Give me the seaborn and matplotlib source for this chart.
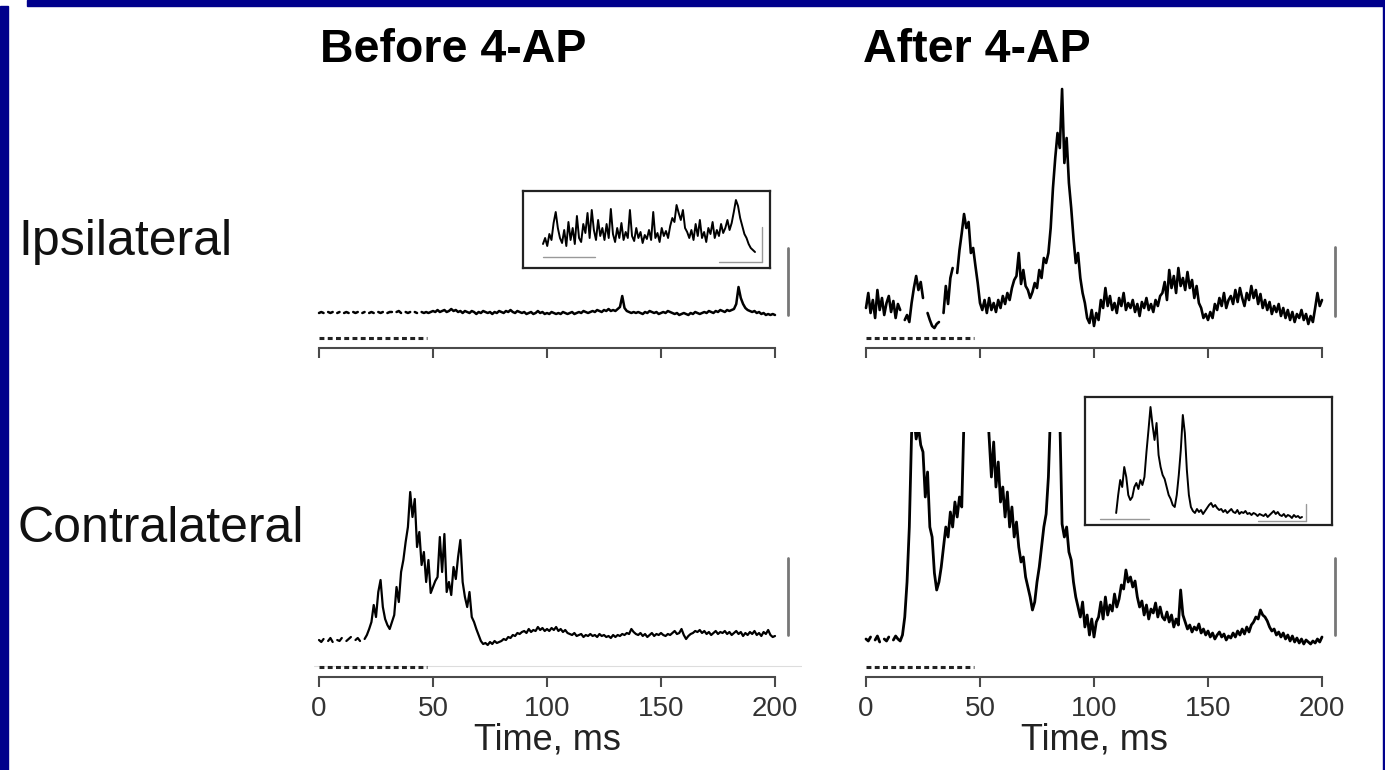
import numpy as np
import pandas as pd
import matplotlib
matplotlib.use("Agg")
import matplotlib.pyplot as plt
from matplotlib.patches import Rectangle
import seaborn as sns

# ---- data (signal height above the time axis) ----
nan = np.nan
time_ms = np.arange(0, 201)          # 1 ms samples, 0..200 ms
time_inset = np.arange(0, 201, 2)    # 2 ms samples for the insets

before_ipsi = [
    35, 36, 35, nan, 36, 35, 36, nan, 35, 36,
    nan, 35, 36, 35, nan, 36, 35, 36, nan, 35,
    36, nan, 35, 36, 35, nan, 36, 35, 36, nan,
    35, 36, 36, nan, 36, 37, 35, nan, 36, 35,
    36, nan, 36, 35, nan, 36, 35, 36, 35, 36,
    37, 36, 38, 36, 37, 38, 36, 37, 39, 37,
    38, 36, 37, 35, 37, 36, 35, 37, 36, 34,
    36, 35, 37, 36, 35, 36, 34, 36, 35, 37,
    36, 35, 37, 36, 38, 36, 35, 37, 36, 35,
    36, 34, 35, 36, 34, 35, 37, 35, 36, 34,
    35, 34, 36, 35, 34, 35, 34, 36, 35, 34,
    35, 36, 34, 35, 36, 35, 37, 36, 35, 36,
    37, 36, 38, 37, 36, 38, 37, 39, 37, 38,
    37, 39, 41, 52, 40, 37, 36, 35, 36, 35,
    36, 35, 34, 36, 35, 37, 36, 35, 36, 34,
    35, 36, 35, 37, 36, 35, 34, 35, 33, 34,
    35, 34, 33, 35, 34, 36, 35, 34, 35, 36,
    35, 37, 36, 35, 37, 36, 38, 37, 36, 38,
    37, 38, 39, 44, 61, 50, 44, 40, 38, 37,
    36, 37, 35, 36, 34, 35, 33, 34, 33, 34,
    33]

after_ipsi = [
    40, 55, 35, 48, 30, 58, 38, 50, 33, 45,
    52, 36, 47, 30, 44, 38, nan, 28, 33, 26,
    45, 60, 72, 58, 66, 50, nan, 35, 28, 22,
    20, 24, 26, nan, 35, 62, 44, 70, 80, nan,
    75, 98, 115, 134, 120, 126, 95, 100, 82, 65,
    45, 38, 48, 35, 50, 38, 45, 36, 48, 40,
    52, 44, 55, 48, 60, 68, 72, 95, 64, 78,
    62, 58, 50, 56, 65, 60, 78, 70, 90, 85,
    95, 120, 160, 190, 215, 200, 259, 185, 210, 165,
    140, 110, 85, 95, 70, 55, 45, 30, 25, 38,
    22, 35, 28, 48, 40, 60, 42, 52, 38, 45,
    35, 50, 42, 55, 38, 45, 40, 48, 36, 44,
    32, 46, 40, 50, 38, 44, 36, 48, 42, 52,
    55, 66, 48, 78, 60, 72, 55, 80, 62, 70,
    58, 76, 60, 68, 50, 62, 45, 40, 30, 34,
    28, 36, 30, 44, 38, 50, 42, 55, 40, 48,
    52, 44, 58, 46, 60, 50, 42, 55, 48, 62,
    50, 58, 44, 54, 40, 48, 38, 46, 34, 42,
    36, 44, 32, 40, 30, 38, 28, 36, 26, 34,
    30, 38, 28, 34, 24, 32, 26, 40, 55, 42,
    48]

before_contra = [
    37, 35, 38, nan, 36, 39, 35, nan, 37, 36,
    39, nan, 36, 38, 40, nan, 37, 39, 36, nan,
    38, 42, 48, 55, 72, 60, 85, 97, 70, 58,
    52, 48, 55, 62, 90, 75, 105, 117, 135, 150,
    185, 160, 178, 130, 145, 112, 125, 95, 117, 84,
    90, 96, 100, 140, 105, 143, 85, 95, 82, 110,
    98, 120, 137, 95, 80, 70, 85, 60, 55, 48,
    42, 36, 33, 34, 32, 35, 33, 36, 34, 35,
    36, 38, 37, 40, 39, 42, 41, 44, 43, 45,
    46, 44, 48, 45, 47, 46, 50, 47, 49, 46,
    48, 46, 49, 47, 50, 46, 48, 45, 47, 44,
    43, 42, 44, 41, 42, 43, 40, 42, 41, 43,
    41, 42, 40, 43, 41, 42, 40, 41, 39, 42,
    40, 42, 41, 43, 42, 44, 43, 48, 45, 43,
    42, 44, 41, 43, 40, 42, 44, 41, 43, 42,
    44, 42, 41, 43, 42, 44, 46, 43, 44, 48,
    42, 38, 41, 43, 44, 46, 45, 47, 44, 46,
    43, 45, 42, 44, 46, 43, 45, 44, 46, 43,
    45, 42, 44, 46, 43, 45, 41, 44, 42, 45,
    43, 46, 42, 44, 41, 45, 43, 47, 42, 40,
    41]

after_contra = [
    38, 36, 40, nan, 37, 41, 35, nan, 38, 36,
    40, nan, 37, 41, 38, 36, 42, 60, 95, 150,
    244, 260, 238, 250, 232, 225, 180, 205, 150, 140,
    104, 87, 95, 110, 130, 150, 140, 165, 150, 175,
    160, 180, 170, 260, 320, 330, 330, 320, 310, 300,
    300, 310, 300, 280, 240, 200, 235, 190, 215, 175,
    190, 160, 185, 150, 170, 140, 155, 130, 115, 120,
    100, 90, 80, 67, 75, 95, 110, 130, 150, 163,
    200, 270, 300, 300, 280, 260, 153, 140, 150, 125,
    117, 95, 80, 70, 60, 75, 50, 62, 42, 58,
    40, 55, 60, 75, 58, 80, 62, 72, 66, 83,
    70, 78, 92, 88, 107, 95, 100, 90, 96, 80,
    70, 76, 62, 72, 58, 68, 64, 74, 60, 70,
    60, 57, 65, 55, 62, 50, 58, 52, 87, 62,
    55, 48, 52, 45, 50, 47, 53, 44, 48, 42,
    46, 40, 44, 38, 42, 45, 40, 43, 37, 41,
    39, 44, 40, 46, 42, 48, 43, 50, 45, 52,
    55, 60, 58, 67, 62, 60, 56, 50, 46, 48,
    42, 45, 40, 44, 38, 42, 36, 41, 35, 39,
    34, 38, 33, 37, 35, 33, 36, 34, 38, 35,
    40]

inset_before_ipsi = [
    24, 30, 22, 34, 28, 45, 56, 40, 30, 25,
    38, 22, 46, 28, 40, 24, 52, 30, 26, 44,
    35, 55, 30, 58, 38, 28, 48, 32, 40, 28,
    44, 30, 59, 34, 26, 40, 30, 45, 28, 36,
    30, 58, 32, 27, 40, 30, 36, 25, 33, 29,
    38, 28, 56, 30, 35, 26, 40, 32, 37, 30,
    42, 50, 46, 63, 55, 48, 58, 40, 36, 30,
    38, 28, 44, 32, 48, 30, 36, 26, 40, 34,
    46, 30, 38, 32, 44, 35, 40, 48, 38, 45,
    56, 68, 62, 50, 42, 34, 30, 24, 20, 18,
    16]

inset_after_contra = [
    8, nan, 9, nan, 8, nan, 9, nan, 12, 30,
    45, 38, 58, 48, 30, 25, 28, 38, 42, 36,
    45, 40, 48, 73, 95, 118, 100, 85, 102, 70,
    58, 50, 46, 38, 30, 26, 20, 18, 30, 50,
    75, 110, 92, 55, 30, 18, 14, 12, 16, 13,
    15, 11, 14, 17, 20, 22, 18, 20, 17, 15,
    16, 13, 15, 12, 14, 16, 13, 12, 15, 11,
    13, 12, 14, 11, 12, 10, 12, 11, 9, 11,
    10, 9, 11, 8, 10, 12, 14, 11, 13, 10,
    9, 11, 8, 10, 9, 7, 10, 8, 9, 7,
    8]

col_titles = ["Before 4-AP", "After 4-AP"]
row_labels = ["Ipsilateral", "Contralateral"]
x_ticks = [0, 50, 100, 150, 200]
stim_window = (0, 47.5)

# ---- layout helpers (pixel geometry of a 1385x770 canvas) ----
W, H = 1385, 770
PX_PER_MS = 2.28
XLIM = (-2, 212)
col_x0 = [319, 866]
row_axis_y = [348, 677]
row_top_y = [80, 432]

sns.set_theme(style="white")
plt.rcParams["font.family"] = ["Liberation Sans", "DejaVu Sans"]

fig = plt.figure(figsize=(W / 100, H / 100), dpi=100)
fig.patch.set_facecolor("white")


def px_rect(x0, y0, x1, y1):
    return [x0 / W, 1 - y1 / H, (x1 - x0) / W, (y1 - y0) / H]


def draw_trace(ax, t, y, width):
    df = pd.DataFrame({"t": t, "y": y})
    df["seg"] = df["y"].isna().cumsum()
    df = df.dropna()
    sns.lineplot(data=df, x="t", y="y", units="seg", estimator=None,
                 color="black", linewidth=width, ax=ax, legend=False)
    ax.set_xlabel("")
    ax.set_ylabel("")


traces = [[before_ipsi, after_ipsi], [before_contra, after_contra]]
trace_widths = [[1.8, 1.9], [1.6, 2.0]]
scale_bars = [[(33, 100), (32, 101)], [(42, 119), (42, 119)]]

for r in range(2):
    for c in range(2):
        x0 = col_x0[c]
        left = x0 + XLIM[0] * PX_PER_MS
        right = x0 + XLIM[1] * PX_PER_MS
        ax = fig.add_axes(px_rect(left, row_top_y[r], right, row_axis_y[r]))
        ax.set_facecolor("none")
        draw_trace(ax, time_ms, traces[r][c], trace_widths[r][c])
        ax.set_xlim(*XLIM)
        ax.set_ylim(0, row_axis_y[r] - row_top_y[r])
        sns.despine(ax=ax, left=True)
        ax.spines["bottom"].set_bounds(0, 200)
        ax.spines["bottom"].set_color("#4a4a4a")
        ax.spines["bottom"].set_linewidth(1.5)
        ax.set_yticks([])
        ax.set_xticks(x_ticks)
        ax.tick_params(axis="x", bottom=True, direction="out", length=7.5,
                       width=1.5, color="#4a4a4a", pad=6, labelsize=20,
                       labelcolor="#333333", labelbottom=(r == 1))
        # stimulus train
        ax.plot(stim_window, [10, 10], ls=(0, (1.6, 1.1)), lw=2.2,
                color="#222222", solid_capstyle="butt")
        if r == 1 and c == 0:
            ax.axhline(11, color="#dddddd", lw=0.8, zorder=0)
        # vertical scale bar
        ax.plot([205.5, 205.5], scale_bars[r][c], color="#777777", lw=2.0,
                clip_on=False)

# insets
insets = [
    dict(data=inset_before_ipsi, rect=(523, 191, 770, 268), x0=543, ppm=1.06,
         stim_h=11, hbar=(166, 206.6, 6), vbar=(206.6, 6, 41)),
    dict(data=inset_after_contra, rect=(1085, 397, 1332, 525), x0=1100, ppm=1.01,
         stim_h=6, hbar=(156, 204, 4), vbar=(204, 4, 21)),
]
for ins in insets:
    x_left, y_top, x_right, y_bot = ins["rect"]
    iax = fig.add_axes(px_rect(x_left, y_top, x_right, y_bot))
    iax.set_facecolor("white")
    draw_trace(iax, time_inset, ins["data"], 1.4)
    iax.set_xlim((x_left - ins["x0"]) / ins["ppm"], (x_right - ins["x0"]) / ins["ppm"])
    iax.set_ylim(0, y_bot - y_top)
    iax.set_xticks([])
    iax.set_yticks([])
    for sp in iax.spines.values():
        sp.set_visible(True)
        sp.set_color("#222222")
        sp.set_linewidth(1.6)
    iax.plot([0, 49], [ins["stim_h"]] * 2, color="#999999", lw=1.0)
    hx0, hx1, hy = ins["hbar"]
    iax.plot([hx0, hx1], [hy, hy], color="#999999", lw=1.0)
    vx, vy0, vy1 = ins["vbar"]
    iax.plot([vx, vx], [vy0, vy1], color="#999999", lw=1.0)

# titles, row labels, axis labels
fig.text(320 / W, 1 - 62 / H, col_titles[0], fontsize=33.5, fontweight="bold",
         ha="left", va="baseline", color="black")
fig.text(863 / W, 1 - 62 / H, col_titles[1], fontsize=33.5, fontweight="bold",
         ha="left", va="baseline", color="black")
fig.text(18 / W, 1 - 255 / H, row_labels[0], fontsize=36, ha="left",
         va="baseline", color="#111111")
fig.text(18 / W, 1 - 542 / H, row_labels[1], fontsize=36, ha="left",
         va="baseline", color="#111111")
for x0 in col_x0:
    fig.text((x0 + 100 * PX_PER_MS) / W, 1 - 750 / H, "Time, ms", fontsize=26,
             ha="center", va="baseline", color="#222222")

# dark blue frame pieces
frame = "#00008c"
fig.patches.extend([
    Rectangle((27 / W, 1 - 6 / H), 1 - 27 / W, 6 / H, transform=fig.transFigure,
              color=frame, zorder=10),
    Rectangle((0, 0), 8 / W, 1 - 6 / H, transform=fig.transFigure,
              color=frame, zorder=10),
    Rectangle((1383 / W, 0), 2 / W, 1, transform=fig.transFigure,
              color=frame, zorder=10),
])

fig.savefig("out.png", dpi=100)
